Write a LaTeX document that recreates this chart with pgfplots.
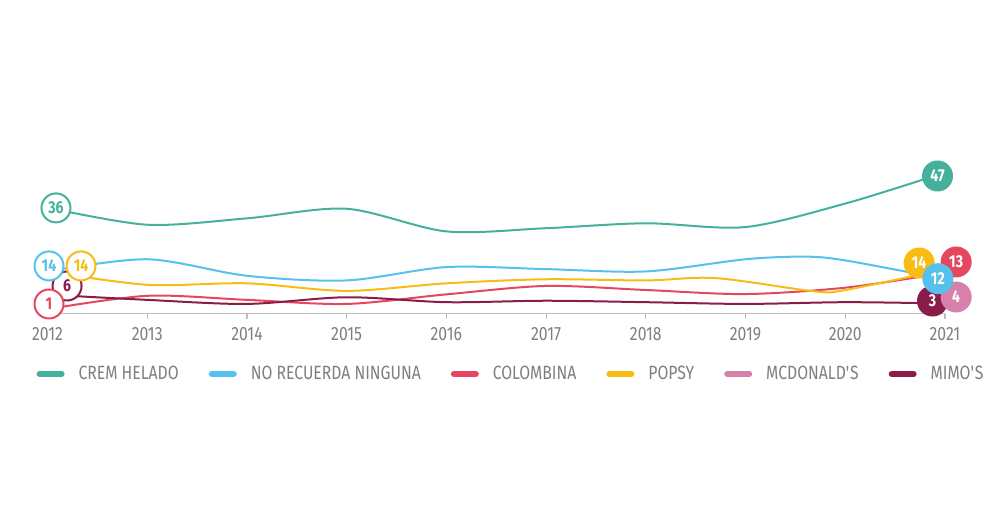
\documentclass[border=0pt]{standalone}
\usepackage{fontspec}
\setmainfont{Fira Sans}[FakeStretch=0.82]
\usepackage{pgfplots}
\pgfplotsset{compat=1.18}

\definecolor{crem}{HTML}{45B19D}
\definecolor{norec}{HTML}{56C1EC}
\definecolor{colomb}{HTML}{E5475F}
\definecolor{popsy}{HTML}{F8BC15}
\definecolor{mcd}{HTML}{D880AC}
\definecolor{mimos}{HTML}{8A1C4A}
\definecolor{txt}{HTML}{7F7F7F}
\definecolor{axl}{HTML}{BDBDBD}

\pgfplotsset{
  startlbl/.style={forget plot, draw=none, mark=none, nodes near coords,
    point meta=explicit symbolic,
    nodes near coords style={anchor=center, circle, draw=#1, fill=white, line width=1pt,
      minimum size=14.5pt, inner sep=0pt, text=#1, font=\fontsize{8.6}{9}\selectfont\bfseries}},
  endlbl/.style={forget plot, draw=none, mark=none, nodes near coords,
    point meta=explicit symbolic,
    nodes near coords style={anchor=center, circle, draw=#1, fill=#1, line width=1pt,
      minimum size=14.5pt, inner sep=0pt, text=white, font=\fontsize{8.6}{9}\selectfont\bfseries}},
}

\begin{document}
\begin{tikzpicture}
\useasboundingbox (0,0) rectangle (500pt,265pt);
\begin{axis}[
  at={(23.75pt,108.25pt)}, anchor=south west,
  scale only axis, width=448.75pt, height=73.25pt,
  xmin=2012, xmax=2021, ymin=-0.5, ymax=50,
  axis x line=bottom, axis y line=none,
  x axis line style={draw=axl, line width=0.8pt, -},
  xtick={2012,2013,2014,2015,2016,2017,2018,2019,2020,2021},
  xticklabels={2012,2013,2014,2015,2016,2017,2018,2019,2020,2021},
  tick align=outside, major tick length=2.5pt,
  xtick style={draw=axl, line width=0.6pt},
  xticklabel style={anchor=center, yshift=-7.8pt, text=txt, font=\fontsize{9.6}{11}\selectfont},
  clip=false,
  every axis plot/.append style={line width=1pt, smooth, mark=none},
  legend columns=6,
  legend image code/.code={\draw[#1, line width=3pt, line cap=round] (0pt,0pt) -- (11pt,0pt);},
  legend style={at={(0.5164,-0.413)}, anchor=center, draw=none, fill=none,
    font=\fontsize{9.6}{11}\selectfont, text=txt,
    nodes={inner sep=1pt},
    /tikz/every odd column/.append style={column sep=6pt},
    /tikz/every even column/.append style={column sep=14pt}},
]
\addplot[crem] coordinates {
  (2012,36) (2013,30.1) (2014,32.3) (2015,35.6) (2016,27.8) (2017,28.9)
  (2018,30.6) (2019,29.3) (2020,37.4) (2020.9,47)};
\addlegendentry{CREM HELADO}
\addplot[norec] coordinates {
  (2012,14) (2013,18.2) (2014,12.5) (2015,10.9) (2016,15.5) (2017,14.8)
  (2018,14) (2019,18.2) (2019.6,19.1) (2020,17.8) (2020.9,12)};
\addlegendentry{NO RECUERDA NINGUNA}
\addplot[colomb] coordinates {
  (2012,1) (2013,5.6) (2014,4.2) (2015,2.8) (2016,6.1) (2017,9.0)
  (2018,7.6) (2019,6.2) (2020,8.4) (2020.9,13)};
\addlegendentry{COLOMBINA}
\addplot[popsy] coordinates {
  (2012,14) (2013,9.4) (2014,9.9) (2015,7.3) (2016,9.9) (2017,11.3)
  (2018,10.9) (2018.7,11.7) (2019.7,7.1) (2020,7.6) (2020.9,14)};
\addlegendentry{POPSY}
\addlegendimage{mcd}
\addlegendentry{MCDONALD\textquotesingle S}
\addplot[mimos] coordinates {
  (2012,6) (2013,4.2) (2014,2.8) (2015,5.1) (2016,3.4) (2017,3.9)
  (2018,3.4) (2019,2.8) (2020,3.4) (2020.9,3)};
\addlegendentry{MIMO\textquotesingle S}

% start labels
\addplot[startlbl=mimos] coordinates {(2012.196,8.98)[6]};
\addplot[startlbl=norec] coordinates {(2012.015,15.9)[14]};
\addplot[startlbl=popsy] coordinates {(2012.336,15.9)[14]};
\addplot[startlbl=colomb] coordinates {(2012.015,2.78)[1]};
\addplot[startlbl=crem] coordinates {(2012.085,35.9)[36]};
% end labels
\addplot[endlbl=crem] coordinates {(2020.925,46.9)[47]};
\addplot[endlbl=popsy] coordinates {(2020.741,16.9)[14]};
\addplot[endlbl=colomb] coordinates {(2021.112,17.26)[13]};
\addplot[endlbl=mimos] coordinates {(2020.875,3.81)[3]};
\addplot[endlbl=mcd] coordinates {(2021.112,5.19)[4]};
\addplot[endlbl=norec] coordinates {(2020.929,11.5)[12]};
\end{axis}
\end{tikzpicture}
\end{document}
